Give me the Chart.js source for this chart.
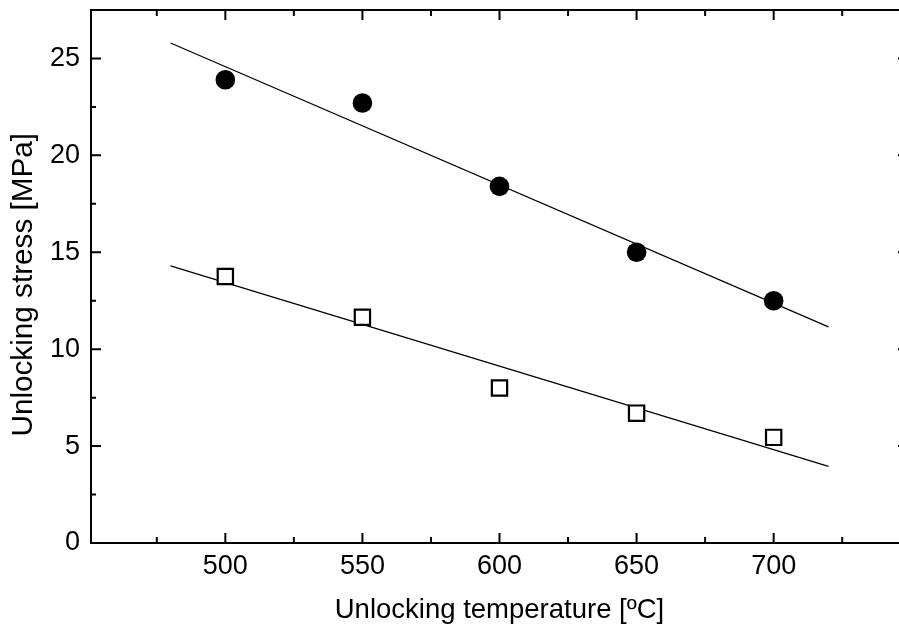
<!DOCTYPE html>
<html>
<head>
<meta charset="utf-8">
<script src="https://cdn.jsdelivr.net/npm/chart.js@4.4.1/dist/chart.umd.min.js"></script>
<style>
  html, body { margin: 0; padding: 0; background: #fff; }
  #wrap { width: 899px; height: 628px; overflow: hidden; position: relative; }
  canvas { display: block; }
</style>
</head>
<body>
<div id="wrap"><canvas id="c" width="920" height="628"></canvas></div>
<script>
// Unlocking temperature [ºC]
const temperatures = [500, 550, 600, 650, 700];
// Unlocking stress [MPa], filled circles
const stressFilled = [23.9, 22.7, 18.4, 15.0, 12.5];
// Unlocking stress [MPa], open squares
const stressOpen = [13.75, 11.65, 8.0, 6.7, 5.45];

// Linear fit lines, drawn between their two end points
const fitTemps = [480, 720];
const fitFilled = [25.8, 11.15];
const fitOpen = [14.3, 3.95];

// Axis ticks
const xTicks = [500, 550, 600, 650, 700];
const xMinor = [475, 525, 575, 625, 675, 725];
const yTicks = [0, 5, 10, 15, 20, 25];
const yMinor = [2.5, 7.5, 12.5, 17.5, 22.5];

const toPoints = (xs, ys) => xs.map((x, i) => ({ x: x, y: ys[i] }));

const FONT = 'Liberation Sans, Arial, sans-serif';

// Frame around the plot area with inward major/minor ticks on all four sides
const framePlugin = {
  id: 'frame',
  afterDatasetsDraw(chart) {
    const { ctx, chartArea: a, scales: { x, y } } = chart;
    ctx.save();
    ctx.strokeStyle = '#000';
    ctx.lineWidth = 2;
    ctx.lineCap = 'butt';
    ctx.strokeRect(a.left, a.top, a.right - a.left, a.bottom - a.top);
    ctx.beginPath();
    const xt = (vals, len) => vals.forEach(v => {
      const px = x.getPixelForValue(v);
      ctx.moveTo(px, a.bottom); ctx.lineTo(px, a.bottom - len);
      ctx.moveTo(px, a.top); ctx.lineTo(px, a.top + len);
    });
    const yt = (vals, len) => vals.forEach(v => {
      const py = y.getPixelForValue(v);
      ctx.moveTo(a.left, py); ctx.lineTo(a.left + len, py);
      ctx.moveTo(a.right, py); ctx.lineTo(a.right - len, py);
    });
    xt(xTicks, 10); xt(xMinor, 6);
    yt(yTicks, 10); yt(yMinor, 5);
    ctx.stroke();
    ctx.restore();
  }
};

new Chart(document.getElementById('c'), {
  type: 'scatter',
  data: {
    datasets: [
      {
        data: toPoints(temperatures, stressFilled),
        pointStyle: 'circle',
        pointRadius: 9.8,
        backgroundColor: '#000',
        borderColor: '#000',
        borderWidth: 0
      },
      {
        data: toPoints(temperatures, stressOpen),
        pointStyle: 'rect',
        pointRadius: 10.8,
        backgroundColor: '#fff',
        borderColor: '#000',
        borderWidth: 2.2
      },
      {
        data: toPoints(fitTemps, fitFilled),
        showLine: true,
        pointRadius: 0,
        borderColor: '#000',
        borderWidth: 1.2
      },
      {
        data: toPoints(fitTemps, fitOpen),
        showLine: true,
        pointRadius: 0,
        borderColor: '#000',
        borderWidth: 1.2
      }
    ]
  },
  options: {
    responsive: false,
    animation: false,
    events: [],
    layout: { autoPadding: false, padding: { top: 10, right: 12, left: 0, bottom: 0 } },
    plugins: { legend: { display: false }, tooltip: { enabled: false } },
    scales: {
      x: {
        type: 'linear',
        min: 451,
        max: 749,
        afterBuildTicks: s => { s.ticks = xTicks.map(v => ({ value: v })); },
        afterFit: s => { s.height = 85; s.paddingLeft = 0; s.paddingRight = 0; },
        grid: { display: false, drawTicks: false },
        border: { display: false },
        ticks: { color: '#000', padding: 7, maxRotation: 0, font: { family: FONT, size: 27 } },
        title: {
          display: true,
          text: 'Unlocking temperature [ºC]',
          color: '#000',
          font: { family: FONT, size: 27.5 },
          padding: { top: 0, bottom: 1.5 }
        }
      },
      y: {
        type: 'linear',
        min: 0,
        max: 27.5,
        afterBuildTicks: s => { s.ticks = yTicks.map(v => ({ value: v })); },
        afterFit: s => { s.width = 91; s.paddingTop = 0; s.paddingBottom = 0; },
        grid: { display: false, drawTicks: false },
        border: { display: false },
        ticks: { color: '#000', padding: 11, font: { family: FONT, size: 27 } },
        title: {
          display: true,
          text: 'Unlocking stress [MPa]  ',
          color: '#000',
          font: { family: FONT, size: 29.7 },
          padding: { top: 5.5, bottom: 0 }
        }
      }
    }
  },
  plugins: [framePlugin]
});
</script>
</body>
</html>
